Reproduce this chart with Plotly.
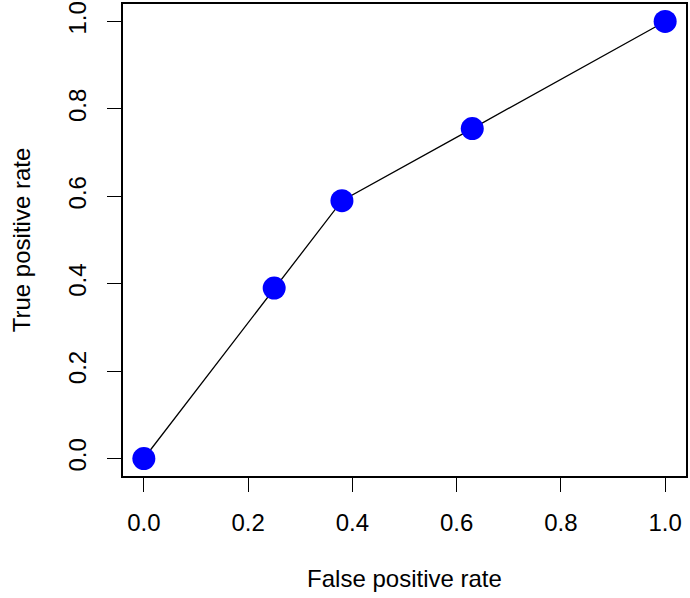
import plotly.graph_objects as go

fpr = [0.0, 0.25, 0.38, 0.63, 1.0]
tpr = [0.0, 0.39, 0.59, 0.755, 1.0]
tick_vals = [0.0, 0.2, 0.4, 0.6, 0.8, 1.0]
tick_text = ["0.0", "0.2", "0.4", "0.6", "0.8", "1.0"]

fig = go.Figure()
fig.add_trace(go.Scatter(x=fpr, y=tpr, mode="lines",
                         line=dict(color="black", width=1.3), hoverinfo="skip"))
fig.add_trace(go.Scatter(x=fpr, y=tpr, mode="markers",
                         marker=dict(color="#0000FF", size=23, line=dict(width=0))))

font = dict(family="Liberation Sans, Arial, Helvetica, sans-serif", size=24, color="black")
axis_common = dict(range=[-0.04, 1.04], showgrid=False, zeroline=False,
                   showline=True, linecolor="black", linewidth=1.5, mirror=True,
                   ticks="outside", ticklen=14, tickwidth=1.3, tickcolor="black",
                   tickvals=tick_vals, ticktext=tick_text, tickfont=font)

fig.update_layout(
    width=690, height=598,
    margin=dict(l=123, r=4, t=2, b=122),
    paper_bgcolor="white", plot_bgcolor="white",
    showlegend=False,
    font=font,
    xaxis=dict(**axis_common, ticklabelstandoff=10,
               title=dict(text="False positive rate", font=font, standoff=36)),
    yaxis=dict(**axis_common, tickangle=-90, ticklabelstandoff=12,
               title=dict(text="True positive rate", font=font, standoff=26)),
)
fig.write_html("out.html")
